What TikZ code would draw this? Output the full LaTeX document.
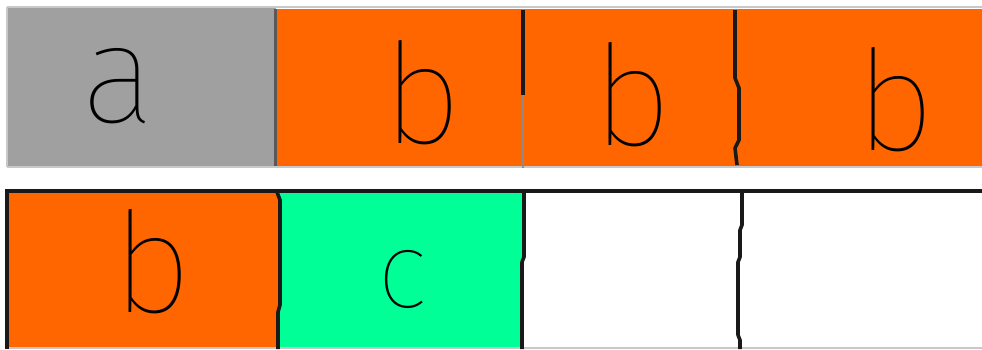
\documentclass[tikz,border=0pt]{standalone}
\usepackage{fontspec}
\newfontfamily\hand{Fira Sans Thin}
\definecolor{cellgray}{RGB}{160,160,160}
\definecolor{cellorange}{RGB}{255,102,0}
\definecolor{cellgreen}{RGB}{0,255,150}
\definecolor{rimgray}{RGB}{200,200,200}
\begin{document}
\begin{tikzpicture}[x=1pt,y=-1pt,
  letter/.style={inner sep=0pt,anchor=base,font=\hand\fontsize{140}{140}\selectfont},
  divider/.style={line width=3.6pt,black!90,line join=round},
  rim/.style={line width=2pt,rimgray}]
\useasboundingbox (0,0) rectangle (982,349);
% top row
\fill[cellgray] (8,8) rectangle (276,166);
\fill[cellorange] (276,9) rectangle (982,166);
\draw[rim] (7,7) -- (982,7);
\draw[rim] (7,167) -- (982,167);
\draw[rim] (7,7) -- (7,167);
\draw[line width=3pt,black!65] (275,9) -- (275,166);
\draw[divider] (523,10) -- (523,95);
\draw[line width=2pt,black!45] (523,95) -- (523,168);
\draw[divider] (735,10) -- (735,78) -- (739,88) -- (739,140) -- (735,148) -- (737,165);
% bottom row
\fill[cellorange] (8,192) rectangle (279,349);
\fill[cellgreen] (279,192) rectangle (523,349);
\draw[rim] (8,348) -- (982,348);
\draw[divider] (5,191) -- (982,191);
\draw[divider] (7,191) -- (7,349);
\draw[divider] (277,192) -- (280,200) -- (280,305) -- (278,312) -- (278,349);
\draw[divider] (524,192) -- (524,257) -- (522,262) -- (522,349);
\draw[divider] (742,192) -- (742,225) -- (740,230) -- (740,257) -- (738,262) -- (738,335) -- (740,340) -- (740,349);
% letters
\node[letter] (la) at (118,122) {a};
\node[letter] (lb1) at (422,143) {b};
\node[letter] (lb2) at (632,145) {b};
\node[letter] (lb3) at (895,150) {b};
\node[letter] (lb4) at (152,312) {b};
\node[letter,font=\hand\fontsize{108}{108}\selectfont] (lc) at (403,307) {c};
\end{tikzpicture}
\end{document}
